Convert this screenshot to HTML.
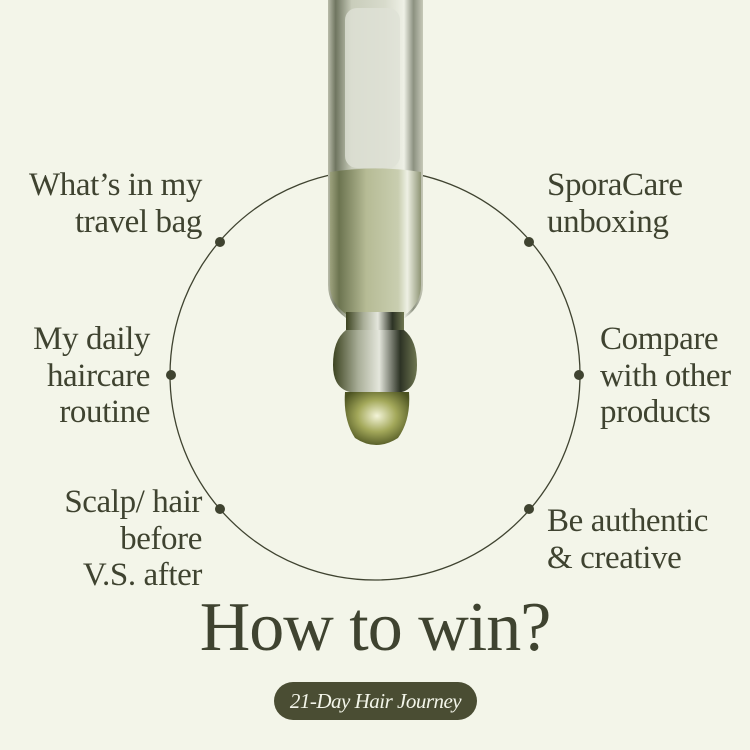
<!DOCTYPE html>
<html><head><meta charset="utf-8"><style>
html,body{margin:0;padding:0}
body{width:750px;height:750px;background:#f3f5e9;position:relative;overflow:hidden;font-family:"Liberation Serif",serif;color:#3f4330}
.l{position:absolute;font-size:33px;line-height:36.5px;letter-spacing:-0.4px;white-space:nowrap}
.r{text-align:right}
.t{position:absolute;left:0;width:750px;text-align:center;top:588px;font-size:70px;line-height:80px;letter-spacing:-1px}
.pill{position:absolute;left:274px;top:682px;width:203px;height:38px;border-radius:19px;background:#4a4d33;color:#f3f5e9;font-style:italic;font-size:21px;line-height:38px;text-align:center;letter-spacing:-0.5px}
</style></head><body>
<svg width="750" height="750" style="position:absolute;left:0;top:0">
<defs>
<linearGradient id="tube" x1="0" x2="1">
<stop offset="0" stop-color="#b9bcaa"/><stop offset="0.08" stop-color="#6f7560"/><stop offset="0.25" stop-color="#c9cdbb"/><stop offset="0.6" stop-color="#d8dbcc"/><stop offset="0.8" stop-color="#eef0e6"/><stop offset="0.9" stop-color="#8c9180"/><stop offset="1" stop-color="#c6c9b8"/>
</linearGradient>
<linearGradient id="liq" x1="0" x2="1">
<stop offset="0" stop-color="#9da27e"/><stop offset="0.1" stop-color="#6c7450"/><stop offset="0.4" stop-color="#b6bb95"/><stop offset="0.75" stop-color="#c9ceb0"/><stop offset="0.85" stop-color="#eef0e4"/><stop offset="1" stop-color="#8f9575"/>
</linearGradient>
<linearGradient id="bulb" x1="0" x2="1">
<stop offset="0" stop-color="#3c4320"/><stop offset="0.3" stop-color="#a9ae98"/><stop offset="0.55" stop-color="#e4e6dc"/><stop offset="0.8" stop-color="#2d3325"/><stop offset="1" stop-color="#6e7650"/>
</linearGradient>
<radialGradient id="drop" cx="0.5" cy="0.45" r="0.6">
<stop offset="0" stop-color="#f3f4d8"/><stop offset="0.5" stop-color="#a3a85a"/><stop offset="1" stop-color="#4b5220"/>
</radialGradient>
</defs>
<circle cx="375" cy="375" r="205" fill="none" stroke="#3f4330" stroke-width="1.3"/>
<path d="M328 0 H423 V285 Q423 305 405 318 H346 Q328 305 328 285 Z" fill="url(#tube)"/>
<path d="M330 172 Q375 165 421 172 V285 Q421 303 405 315 H347 Q330 303 330 285 Z" fill="url(#liq)"/>
<rect x="345" y="8" width="55" height="160" rx="12" fill="#dfe1d6" opacity="0.8"/>
<rect x="346" y="312" width="58" height="30" fill="url(#bulb)"/>
<path d="M346 330 Q333 340 333 365 Q333 388 350 392 H402 Q417 388 417 365 Q417 340 404 330 Z" fill="url(#bulb)"/>
<path d="M345 392 H409 Q411 420 398 438 Q376 452 355 438 Q343 420 345 392 Z" fill="url(#drop)"/>
<g fill="#3f4330">
<circle cx="220" cy="242" r="5"/><circle cx="529" cy="242" r="5"/>
<circle cx="171" cy="375" r="5"/><circle cx="579" cy="375" r="5"/>
<circle cx="220" cy="509" r="5"/><circle cx="529" cy="509" r="5"/>
</g>
</svg>
<div class="l r" style="right:548px;top:167px">What’s in my<br>travel bag</div>
<div class="l" style="left:547px;top:167px">SporaCare<br>unboxing</div>
<div class="l r" style="right:600px;top:321px">My daily<br>haircare<br>routine</div>
<div class="l" style="left:600px;top:321px">Compare<br>with other<br>products</div>
<div class="l r" style="right:548px;top:484px">Scalp/ hair<br>before<br>V.S. after</div>
<div class="l" style="left:547px;top:503px">Be authentic<br>&amp; creative</div>
<div class="t">How to win?</div>
<div class="pill">21-Day Hair Journey</div>
</body></html>
